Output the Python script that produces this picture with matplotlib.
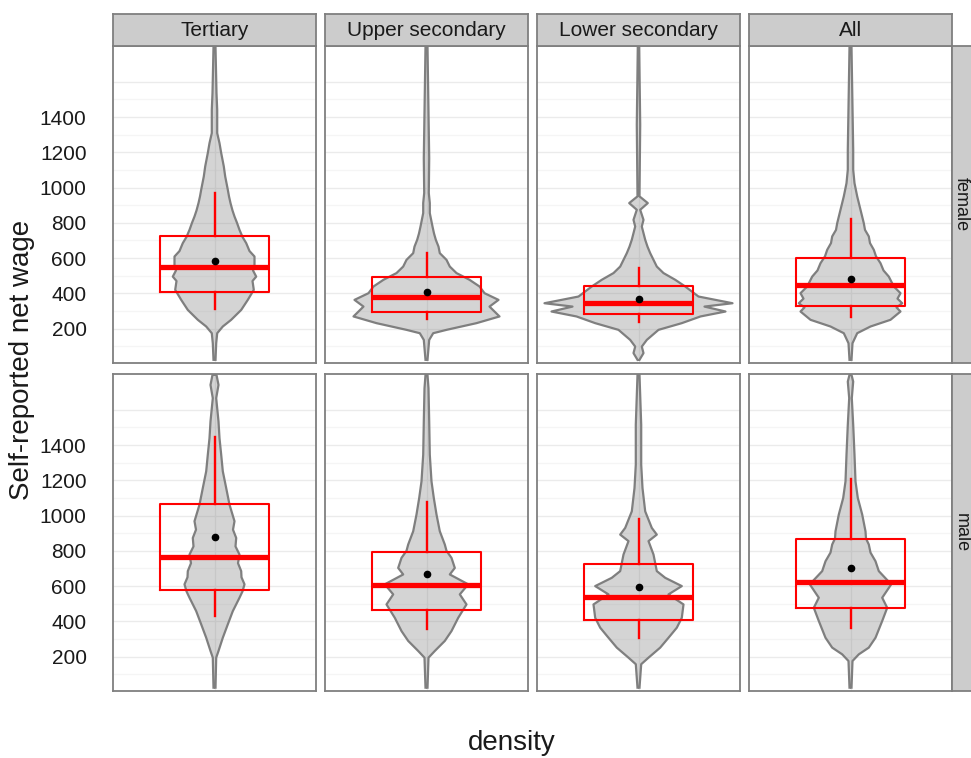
import numpy as np
import matplotlib.pyplot as plt

plt.rcParams['font.family'] = ['Liberation Sans', 'DejaVu Sans']

# facets
education = ["Tertiary", "Upper secondary", "Lower secondary", "All"]
gender = ["female", "male"]

# box summaries (net wage)
q1_female = [405, 297, 282, 331]
median_female = [547, 378, 348, 447]
q3_female = [726, 490, 443, 603]
mean_female = [586, 410, 367, 484]
whisk_lo_female = [312, 254, 240, 265]
whisk_hi_female = [970, 628, 543, 821]

q1_male = [577, 464, 409, 473]
median_male = [766, 605, 539, 626]
q3_male = [1065, 796, 728, 866]
mean_male = [880, 671, 596, 705]
whisk_lo_male = [431, 356, 308, 361]
whisk_hi_male = [1447, 1078, 983, 1207]

# violin outlines: wage levels and relative density (half width)
wage_f_tert = [23, 117, 174, 212, 250, 306, 363, 420, 470, 495, 530, 552, 609, 640, 685,
               720, 760, 800, 836, 870, 912, 950, 988, 1063, 1120, 1196, 1252, 1309, 1441,
               1536, 1797]
dens_f_tert = [1, 1.7, 2.7, 8.3, 16.7, 26.7, 33.3, 39.3, 38, 41.7, 38.5, 40, 40, 35, 31.7,
               28, 25, 22.5, 20, 18, 16, 14.5, 13.3, 10.7, 9.3, 6.7, 5, 2.7, 2.7,
               2, 1]
wage_f_upper = [23, 136, 174, 193, 231, 269, 325, 363, 401, 439, 477, 515, 552, 590, 628,
                665, 704, 740, 779, 855, 912, 969, 1167, 1801]
dens_f_upper = [1, 2.7, 6.7, 20, 50, 73, 63, 72, 58, 53, 43, 30, 23.3, 20, 13.3,
                12, 9.3, 7.5, 6, 3.3, 3.3, 2.3, 2.7, 1]
wage_f_lower = [23, 61, 98, 136, 193, 231, 269, 297, 325, 344, 382, 439, 477, 515,
                552, 590, 628, 665, 704, 779, 817, 874, 912, 950, 1356, 1801]
dens_f_lower = [1, 5, 3.3, 8.3, 20, 43.3, 62, 87, 66, 94, 60, 46.7, 36.7, 25,
                18.3, 15, 11.7, 9, 6.7, 3.3, 5, 1.7, 9.3, 1, 1.7, 0.7]
wage_f_all = [23, 117, 174, 212, 250, 297, 320, 344, 370, 401, 439, 495, 530, 571, 610, 647,
              685, 723, 760, 798, 874, 950, 1025, 1101, 1214, 1797]
dens_f_all = [1, 2, 6.7, 20, 40, 50, 46, 51.7, 47, 50, 43.3, 38.3, 33, 30, 25.5, 23.3,
              19.5, 18.3, 14.5, 13.3, 10, 6.7, 4, 2.7, 2.7, 1]

wage_m_tert = [24, 194, 232, 307, 383, 458, 534, 570, 610, 650, 685, 730, 779, 825, 873,
               920, 968, 1062, 1156, 1251, 1345, 1439, 1534, 1666, 1741, 1798]
dens_m_tert = [1, 1.7, 4, 8.3, 13.3, 18.3, 25, 28, 30, 27, 26.7, 23.5, 25, 21, 21.7,
               18.5, 20, 15, 11.7, 8.3, 6.7, 5, 4, 1.7, 4, 2]
wage_m_upper = [24, 194, 232, 289, 345, 420, 496, 553, 610, 666, 703, 760, 800, 836, 911,
                1006, 1100, 1194, 1345, 1534, 1722, 1798]
dens_m_upper = [1, 2, 8.3, 18.3, 25, 31.7, 40, 33.3, 41.7, 23.3, 28.3, 25, 20, 18.3, 13.3,
                10, 7.3, 5, 3.3, 2.7, 2, 1]
wage_m_lower = [24, 157, 194, 251, 307, 364, 420, 496, 553, 600, 647, 685, 779, 855,
                892, 930, 1024, 1156, 1289, 1383, 1515, 1798]
dens_m_lower = [1, 2.7, 10, 21.7, 30, 38.3, 43.3, 45, 30, 43.3, 26.7, 18.3, 15, 10,
                18.3, 13.3, 6.7, 4, 2.7, 2.7, 2.7, 1]
wage_m_all = [24, 175, 213, 251, 307, 402, 477, 534, 610, 685, 741, 790, 836, 870, 911,
              1006, 1100, 1194, 1345, 1515, 1666, 1760, 1798]
dens_m_all = [1, 2, 8.3, 18.3, 25, 31.7, 36.7, 31.7, 40.7, 28.3, 25, 20, 18.3, 15.5, 15,
              11.7, 7.3, 5, 4, 2.7, 1.3, 2.7, 1]

violins = {
    "female": [(wage_f_tert, dens_f_tert), (wage_f_upper, dens_f_upper),
               (wage_f_lower, dens_f_lower), (wage_f_all, dens_f_all)],
    "male": [(wage_m_tert, dens_m_tert), (wage_m_upper, dens_m_upper),
             (wage_m_lower, dens_m_lower), (wage_m_all, dens_m_all)],
}
stats = {
    "female": (q1_female, median_female, q3_female, mean_female, whisk_lo_female, whisk_hi_female),
    "male": (q1_male, median_male, q3_male, mean_male, whisk_lo_male, whisk_hi_male),
}

W, H = 971, 758
fig = plt.figure(figsize=(W / 100, H / 100), dpi=100)

def px_axes(x0, y0, w, h):
    # rectangle given in pixels from the top-left corner
    return fig.add_axes([x0 / W, 1 - (y0 + h) / H, w / W, h / H])

col_x = [113, 325, 537, 749]
row_y = [46, 374]
pw, ph = 203, 317
grey50 = '#7f7f7f'
dens_scale = 101.5  # density units -> half panel width

for r, g in enumerate(gender):
    q1, med, q3, mn, wlo, whi = stats[g]
    for c, ed in enumerate(education):
        ax = px_axes(col_x[c], row_y[r], pw, ph)
        ax.set_xlim(-1, 1)
        ax.set_ylim(5, 1803)
        # grid
        for v in range(100, 1700, 100):
            ax.axhline(v, color='#ebebeb' if v % 200 == 0 else '#f5f5f5', lw=1.0, zorder=0)
        ax.axvline(0, color='#ebebeb', lw=1.0, zorder=0)

        wage, dens = violins[g][c]
        wage = np.array(wage, dtype=float)
        half = np.array(dens, dtype=float) / dens_scale
        ax.fill_betweenx(wage, -half, half, facecolor=grey50, alpha=0.33,
                         edgecolor='none', zorder=1)
        ax.plot(np.r_[-half, half[::-1]], np.r_[wage, wage[::-1]],
                color=grey50, lw=1.6, zorder=2)

        # whiskers + box
        ax.plot([0, 0], [wlo[c], q1[c]], color='red', lw=1.7, zorder=3)
        ax.plot([0, 0], [q3[c], whi[c]], color='red', lw=1.7, zorder=3)
        bw = 0.54
        ax.plot([-bw, bw, bw, -bw, -bw], [q1[c], q1[c], q3[c], q3[c], q1[c]],
                color='red', lw=1.5, zorder=3)
        ax.plot([-bw, bw], [med[c], med[c]], color='red', lw=3.8,
                solid_capstyle='butt', zorder=4)
        ax.plot(0, mn[c], 'o', color='black', ms=4.5, zorder=5)

        ax.set_xticks([])
        ax.tick_params(axis='y', length=0, pad=19, labelsize=15, labelcolor='#1a1a1a')
        if c == 0:
            ax.set_yticks(range(200, 1600, 200))
        else:
            ax.set_yticks([])
        for s in ax.spines.values():
            s.set_color(grey50)
            s.set_linewidth(1.3)

        # top strips
        if r == 0:
            sa = px_axes(col_x[c], 14, pw, 32)
            sa.set_facecolor('#cccccc')
            sa.set_xticks([]); sa.set_yticks([])
            for s in sa.spines.values():
                s.set_color(grey50)
                s.set_linewidth(1.3)
            sa.text(0.5, 0.47, ed, ha='center', va='center', fontsize=15,
                    color='#1a1a1a', transform=sa.transAxes)

    # right strip (runs past the edge of the image)
    sa = px_axes(952, row_y[r], 32, ph)
    sa.set_facecolor('#cccccc')
    sa.set_xticks([]); sa.set_yticks([])
    for s in sa.spines.values():
        s.set_color(grey50)
        s.set_linewidth(1.3)
    sa.text(961 / W, 1 - (row_y[r] + ph / 2) / H, g, ha='center', va='center',
            rotation=-90, fontsize=13, color='#1a1a1a', transform=fig.transFigure)

fig.text(22 / W, 1 - 360 / H, "Self-reported net wage", rotation=90,
         ha='center', va='center', fontsize=20, color='#1a1a1a')
fig.text(512 / W, 1 - 743 / H, "density", ha='center', va='center',
         fontsize=20, color='#1a1a1a')

fig.savefig("out.png", dpi=100)
